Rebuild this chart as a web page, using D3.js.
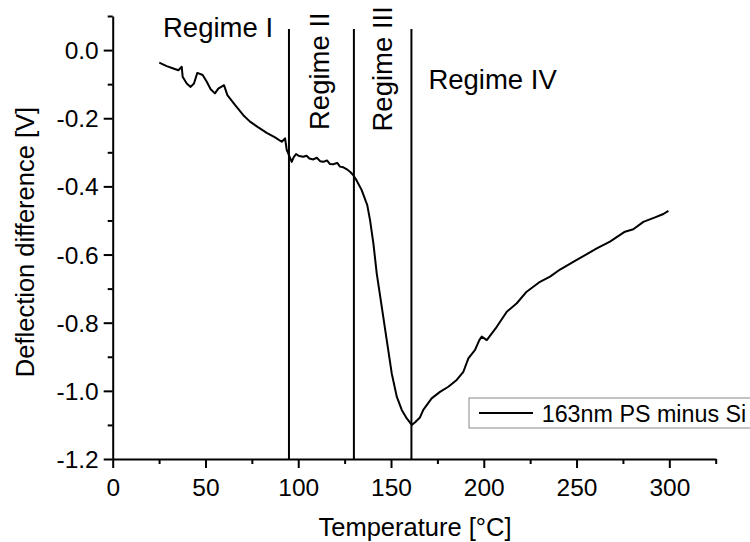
<!DOCTYPE html>
<html>
<head>
<meta charset="utf-8">
<script src="https://cdn.jsdelivr.net/npm/d3@7"></script>
<style>
	body { margin: 0; background: #fff; }
	svg { display: block; font-family: "Liberation Sans", Arial, sans-serif; }
	.axis path, .axis line { stroke: #000; stroke-width: 2px; }
	.axis text { font-size: 24.5px; fill: #000; font-family: "Liberation Sans", Arial, sans-serif; }
</style>
</head>
<body>
<div id="chart"></div>
<script>
// temperature [°C]
const temps = [
	25.1, 29.1, 32.7, 35.4, 37.2, 37.7, 39.9, 42.0, 43.8, 45.6,
	48.5, 50.7, 52.8, 55.1, 56.9, 60.0, 61.8, 65.9, 70.4, 74.0,
	78.5, 83.0, 87.5, 91.1, 92.9, 93.8, 96.5, 97.5, 98.8, 100.5,
	102.7, 104.5, 106.0, 108.1, 110.0, 111.8, 113.5, 115.5, 117.0, 118.9,
	121.0, 122.5, 124.3, 126.0, 127.9, 129.5, 131.1, 134.2, 137.2, 138.7,
	140.5, 142.3, 145.0, 147.7, 150.4, 153.1, 155.8, 158.5, 161.2, 163.0,
	165.6, 167.4, 171.9, 176.4, 180.9, 185.4, 189.0, 191.7, 195.3, 197.6,
	198.9, 201.6, 207.0, 212.4, 217.8, 223.1, 230.3, 235.7, 241.1, 250.1,
	260.9, 268.0, 276.1, 280.6, 286.0, 292.3, 296.8, 299.5
];

// deflection difference [V]
const deflection = [
	-0.037, -0.047, -0.054, -0.059, -0.049, -0.078, -0.098, -0.108, -0.098, -0.067,
	-0.073, -0.093, -0.115, -0.127, -0.113, -0.103, -0.132, -0.161, -0.191, -0.210,
	-0.227, -0.243, -0.256, -0.269, -0.259, -0.293, -0.328, -0.315, -0.305, -0.311,
	-0.313, -0.310, -0.318, -0.321, -0.316, -0.326, -0.328, -0.324, -0.334, -0.335,
	-0.331, -0.342, -0.344, -0.349, -0.357, -0.366, -0.379, -0.411, -0.455, -0.499,
	-0.567, -0.655, -0.753, -0.851, -0.949, -1.017, -1.056, -1.081, -1.100, -1.092,
	-1.078, -1.056, -1.022, -1.003, -0.988, -0.968, -0.944, -0.905, -0.880, -0.851,
	-0.841, -0.851, -0.812, -0.768, -0.743, -0.709, -0.680, -0.665, -0.644, -0.616,
	-0.582, -0.562, -0.533, -0.526, -0.504, -0.491, -0.481, -0.472
];

const regimeBounds = [95, 130, 161];
const regimeLabels = ["Regime I", "Regime II", "Regime III", "Regime IV"];

const xTicks = [0, 50, 100, 150, 200, 250, 300];
const xMinorTicks = [25, 75, 125, 175, 225, 275, 325];
const yTicks = [0.0, -0.2, -0.4, -0.6, -0.8, -1.0, -1.2];
const yMinorTicks = [0.1, -0.1, -0.3, -0.5, -0.7, -0.9, -1.1];

const seriesName = "163nm PS minus Si";

let width = 750;
let height = 542;
let margin = {top: 16, left: 112.7, right: 34.3, bottom: 83};
let plotW = width - margin.left - margin.right;
let plotH = height - margin.top - margin.bottom;

let svg = d3.select("#chart")
	.append("svg")
	.attr("width", width)
	.attr("height", height);

let g = svg.append("g")
	.attr("transform", "translate(" + margin.left + "," + margin.top + ")");

let x = d3.scaleLinear().domain([0, 325]).range([0, plotW]);
let y = d3.scaleLinear().domain([-1.2, 0.1]).range([plotH, 0]);

// regime boundaries
g.selectAll("line.regime")
	.data(regimeBounds)
	.enter().append("line")
	.attr("class", "regime")
	.attr("x1", d => x(d))
	.attr("x2", d => x(d))
	.attr("y1", y(-1.2))
	.attr("y2", y(0.062))
	.style("stroke", "#000")
	.style("stroke-width", "2px");

// curve
let points = temps.map((t, i) => ({t: t, v: deflection[i]}));
let line = d3.line()
	.x(d => x(d.t))
	.y(d => y(d.v));

g.append("path")
	.attr("class", "content")
	.attr("d", line(points))
	.style("stroke", "#000")
	.style("stroke-width", "2px")
	.style("stroke-linejoin", "round")
	.style("fill", "none");

// axes
let xAxis = d3.axisBottom(x).tickValues(xTicks).tickFormat(d3.format("d")).tickSize(9).tickSizeOuter(0).tickPadding(7);
g.append("g")
	.attr("class", "x axis major")
	.attr("transform", "translate(0," + plotH + ")")
	.call(xAxis);

let xMinor = d3.axisBottom(x).tickValues(xMinorTicks).tickFormat("").tickSize(5).tickSizeOuter(0);
g.append("g")
	.attr("class", "x axis minor")
	.attr("transform", "translate(0," + plotH + ")")
	.call(xMinor)
	.select(".domain").remove();

let yAxis = d3.axisLeft(y).tickValues(yTicks).tickSize(9).tickSizeOuter(0).tickPadding(5)
	.tickFormat(d => d3.format(".1f")(d).replace("−", "-"));
g.append("g")
	.attr("class", "y axis major")
	.call(yAxis);

let yMinor = d3.axisLeft(y).tickValues(yMinorTicks).tickFormat("").tickSize(5).tickSizeOuter(0);
g.append("g")
	.attr("class", "y axis minor")
	.call(yMinor)
	.select(".domain").remove();

g.selectAll(".x.axis.major text").attr("dy", "0.85em");
g.selectAll(".y.axis.major text").attr("dy", "0.35em");

// regime labels
let labelFont = "27.5px";
g.append("text")
	.attr("x", 163 - margin.left)
	.attr("y", 36.5 - margin.top)
	.style("font-size", labelFont)
	.text(regimeLabels[0]);

g.append("text")
	.attr("transform", "translate(" + (x(regimeBounds[0]) + 40) + "," + (130 - margin.top) + ") rotate(-90)")
	.style("font-size", labelFont)
	.text(regimeLabels[1]);

g.append("text")
	.attr("transform", "translate(" + (x(regimeBounds[1]) + 38.5) + "," + (131.5 - margin.top) + ") rotate(-90)")
	.style("font-size", labelFont)
	.text(regimeLabels[2]);

g.append("text")
	.attr("x", x(regimeBounds[2]) + 17)
	.attr("y", 89 - margin.top)
	.style("font-size", labelFont)
	.text(regimeLabels[3]);

// axis titles
svg.append("text")
	.attr("x", 415)
	.attr("y", 536)
	.attr("text-anchor", "middle")
	.style("font-size", "25.5px")
	.text("Temperature [°C]");

svg.append("text")
	.attr("transform", "translate(33.5,242) rotate(-90)")
	.attr("text-anchor", "middle")
	.style("font-size", "25.5px")
	.text("Deflection difference [V]");

// legend
let legend = svg.append("g")
	.attr("transform", "translate(469,398)");

legend.append("rect")
	.attr("x", 0)
	.attr("y", 0)
	.attr("width", 300)
	.attr("height", 30)
	.style("fill", "#fff")
	.style("stroke", "#888")
	.style("stroke-width", "1px");

legend.append("line")
	.attr("x1", 10)
	.attr("x2", 64)
	.attr("y1", 15)
	.attr("y2", 15)
	.style("stroke", "#000")
	.style("stroke-width", "2px");

legend.append("text")
	.attr("x", 72.7)
	.attr("y", 24)
	.style("font-size", "23.3px")
	.text(seriesName);
</script>
</body>
</html>
